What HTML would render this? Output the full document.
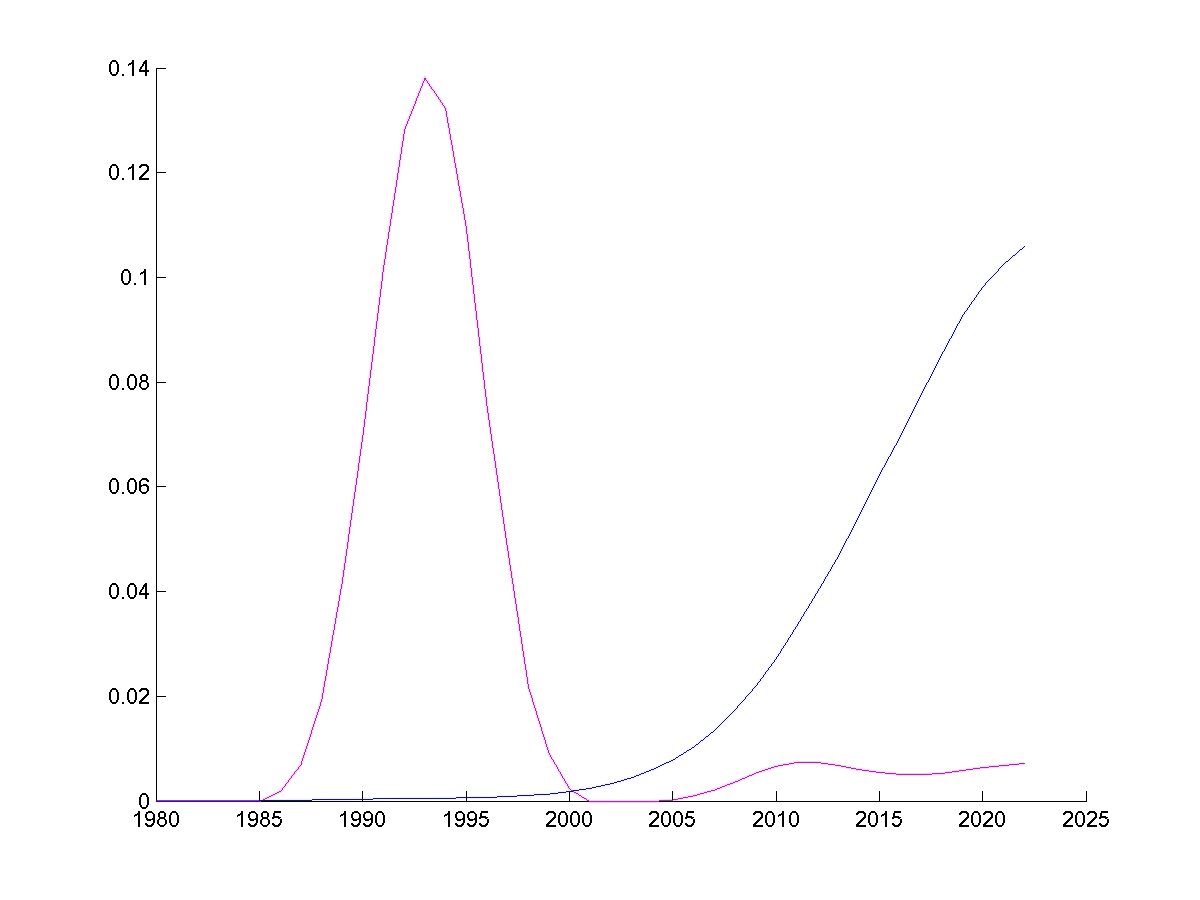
<!DOCTYPE html>
<html><head><meta charset="utf-8"><style>
html,body{margin:0;padding:0;background:#fff;}
body{width:1200px;height:900px;overflow:hidden;font-family:"Liberation Sans",sans-serif;}
svg{display:block;}
</style></head><body>
<svg width="1200" height="900" viewBox="0 0 1200 900">
<rect width="1200" height="900" fill="#fff"/>
<polyline fill="none" stroke="#f6cdf6" stroke-width="3" points="259.8,801.5 280.7,791.3 301.0,764.6 321.7,700.3 342.3,582.0 363.0,435.0 383.5,268.4 404.7,129.5 425.0,78.3 445.5,108.3 466.2,226.7 487.0,406.0 507.5,548.0 528.5,687.0 549.0,753.4 569.8,789.3 589.8,801.5 611.0,801.5 632.0,801.5 652.5,801.5 673.2,800.0 693.8,795.8 714.5,790.0 735.2,782.0 755.8,773.2 776.5,766.3 797.2,762.4 817.8,762.5 838.5,765.5 859.2,769.6 879.8,772.5 900.5,774.4 921.2,774.6 941.8,773.4 962.5,770.5 983.2,767.5 1003.8,765.5 1024.5,763.5"/>
<polyline fill="none" stroke="#ededf9" stroke-width="3" points="259.8,800.5 280.5,800.5 301.2,800.2 321.8,799.8 342.5,799.4 363.2,799.1 383.8,798.9 404.5,798.6 425.2,798.4 445.8,798.2 466.5,797.8 487.2,797.4 507.8,796.6 528.5,795.3 549.2,794.2 569.8,791.4 590.5,788.3 611.2,783.7 631.8,777.7 652.5,769.5 673.2,759.9 693.8,746.9 714.5,730.5 735.2,709.7 755.8,686.3 776.5,658.1 797.2,625.4 817.8,591.3 838.5,556.0 859.2,515.8 879.8,474.3 900.5,436.3 921.2,394.8 941.8,354.6 962.5,316.1 983.2,286.5 1003.8,264.2 1024.5,246.5"/>
<g stroke="#000" stroke-width="1" shape-rendering="crispEdges" fill="none">
<path d="M156.5 68 V802 M156 801.5 H1087"/>
<path d="M156 801.5 H166"/>
<path d="M156 696.5 H166"/>
<path d="M156 591.5 H166"/>
<path d="M156 486.5 H166"/>
<path d="M156 382.5 H166"/>
<path d="M156 277.5 H166"/>
<path d="M156 172.5 H166"/>
<path d="M156 68.5 H166"/>
<path d="M156.5 791 V801"/>
<path d="M259.5 791 V801"/>
<path d="M362.5 791 V801"/>
<path d="M466.5 791 V801"/>
<path d="M569.5 791 V801"/>
<path d="M672.5 791 V801"/>
<path d="M776.5 791 V801"/>
<path d="M879.5 791 V801"/>
<path d="M982.5 791 V801"/>
<path d="M1086.5 791 V801"/>
</g>
<path fill="#9e349f" shape-rendering="crispEdges" d="M424 78h2v1h-2zM424 79h2v1h-2zM424 80h1v1h-1zM426 80h1v1h-1zM423 81h1v1h-1zM427 81h1v1h-1zM423 82h1v1h-1zM427 82h1v1h-1zM422 83h1v1h-1zM428 83h1v1h-1zM422 84h1v1h-1zM429 84h1v1h-1zM422 85h1v1h-1zM429 85h1v1h-1zM421 86h1v1h-1zM430 86h1v1h-1zM421 87h1v1h-1zM431 87h1v1h-1zM420 88h1v1h-1zM431 88h1v1h-1zM420 89h1v1h-1zM432 89h1v1h-1zM420 90h1v1h-1zM433 90h1v1h-1zM419 91h1v1h-1zM434 91h1v1h-1zM419 92h1v1h-1zM434 92h1v1h-1zM418 93h1v1h-1zM435 93h1v1h-1zM418 94h1v1h-1zM436 94h1v1h-1zM418 95h1v1h-1zM436 95h1v1h-1zM417 96h1v1h-1zM437 96h1v1h-1zM417 97h1v1h-1zM438 97h1v1h-1zM416 98h1v1h-1zM438 98h1v1h-1zM416 99h1v1h-1zM439 99h1v1h-1zM416 100h1v1h-1zM440 100h1v1h-1zM415 101h1v1h-1zM440 101h1v1h-1zM415 102h1v1h-1zM441 102h1v1h-1zM415 103h1v1h-1zM442 103h1v1h-1zM414 104h1v1h-1zM442 104h1v1h-1zM414 105h1v1h-1zM443 105h1v1h-1zM413 106h1v1h-1zM444 106h1v1h-1zM413 107h1v1h-1zM444 107h1v1h-1zM413 108h1v1h-1zM445 108h1v1h-1zM412 109h1v1h-1zM445 109h1v1h-1zM412 110h1v1h-1zM445 110h1v1h-1zM411 111h1v1h-1zM446 111h1v1h-1zM411 112h1v1h-1zM446 112h1v1h-1zM411 113h1v1h-1zM446 113h1v1h-1zM410 114h1v1h-1zM446 114h1v1h-1zM410 115h1v1h-1zM446 115h1v1h-1zM409 116h1v1h-1zM446 116h1v1h-1zM409 117h1v1h-1zM447 117h1v1h-1zM409 118h1v1h-1zM447 118h1v1h-1zM408 119h1v1h-1zM447 119h1v1h-1zM408 120h1v1h-1zM447 120h1v1h-1zM407 121h1v1h-1zM447 121h1v1h-1zM407 122h1v1h-1zM447 122h1v1h-1zM407 123h1v1h-1zM448 123h1v1h-1zM406 124h1v1h-1zM448 124h1v1h-1zM406 125h1v1h-1zM448 125h1v1h-1zM405 126h1v1h-1zM448 126h1v1h-1zM405 127h1v1h-1zM448 127h1v1h-1zM405 128h1v1h-1zM449 128h1v1h-1zM404 129h1v1h-1zM449 129h1v1h-1zM404 130h1v1h-1zM449 130h1v1h-1zM404 131h1v1h-1zM449 131h1v1h-1zM404 132h1v1h-1zM449 132h1v1h-1zM404 133h1v1h-1zM449 133h1v1h-1zM403 134h1v1h-1zM450 134h1v1h-1zM403 135h1v1h-1zM450 135h1v1h-1zM403 136h1v1h-1zM450 136h1v1h-1zM403 137h1v1h-1zM450 137h1v1h-1zM403 138h1v1h-1zM450 138h1v1h-1zM403 139h1v1h-1zM450 139h1v1h-1zM403 140h1v1h-1zM451 140h1v1h-1zM402 141h1v1h-1zM451 141h1v1h-1zM402 142h1v1h-1zM451 142h1v1h-1zM402 143h1v1h-1zM451 143h1v1h-1zM402 144h1v1h-1zM451 144h1v1h-1zM402 145h1v1h-1zM452 145h1v1h-1zM402 146h1v1h-1zM452 146h1v1h-1zM401 147h1v1h-1zM452 147h1v1h-1zM401 148h1v1h-1zM452 148h1v1h-1zM401 149h1v1h-1zM452 149h1v1h-1zM401 150h1v1h-1zM452 150h1v1h-1zM401 151h1v1h-1zM453 151h1v1h-1zM401 152h1v1h-1zM453 152h1v1h-1zM401 153h1v1h-1zM453 153h1v1h-1zM400 154h1v1h-1zM453 154h1v1h-1zM400 155h1v1h-1zM453 155h1v1h-1zM400 156h1v1h-1zM453 156h1v1h-1zM400 157h1v1h-1zM454 157h1v1h-1zM400 158h1v1h-1zM454 158h1v1h-1zM400 159h1v1h-1zM454 159h1v1h-1zM399 160h1v1h-1zM454 160h1v1h-1zM399 161h1v1h-1zM454 161h1v1h-1zM399 162h1v1h-1zM454 162h1v1h-1zM399 163h1v1h-1zM455 163h1v1h-1zM399 164h1v1h-1zM455 164h1v1h-1zM399 165h1v1h-1zM455 165h1v1h-1zM399 166h1v1h-1zM455 166h1v1h-1zM398 167h1v1h-1zM455 167h1v1h-1zM398 168h1v1h-1zM456 168h1v1h-1zM398 169h1v1h-1zM456 169h1v1h-1zM398 170h1v1h-1zM456 170h1v1h-1zM398 171h1v1h-1zM456 171h1v1h-1zM398 172h1v1h-1zM456 172h1v1h-1zM397 173h1v1h-1zM456 173h1v1h-1zM397 174h1v1h-1zM457 174h1v1h-1zM397 175h1v1h-1zM457 175h1v1h-1zM397 176h1v1h-1zM457 176h1v1h-1zM397 177h1v1h-1zM457 177h1v1h-1zM397 178h1v1h-1zM457 178h1v1h-1zM397 179h1v1h-1zM457 179h1v1h-1zM396 180h1v1h-1zM458 180h1v1h-1zM396 181h1v1h-1zM458 181h1v1h-1zM396 182h1v1h-1zM458 182h1v1h-1zM396 183h1v1h-1zM458 183h1v1h-1zM396 184h1v1h-1zM458 184h1v1h-1zM396 185h1v1h-1zM458 185h1v1h-1zM396 186h1v1h-1zM459 186h1v1h-1zM395 187h1v1h-1zM459 187h1v1h-1zM395 188h1v1h-1zM459 188h1v1h-1zM395 189h1v1h-1zM459 189h1v1h-1zM395 190h1v1h-1zM459 190h1v1h-1zM395 191h1v1h-1zM460 191h1v1h-1zM395 192h1v1h-1zM460 192h1v1h-1zM394 193h1v1h-1zM460 193h1v1h-1zM394 194h1v1h-1zM460 194h1v1h-1zM394 195h1v1h-1zM460 195h1v1h-1zM394 196h1v1h-1zM460 196h1v1h-1zM394 197h1v1h-1zM461 197h1v1h-1zM394 198h1v1h-1zM461 198h1v1h-1zM394 199h1v1h-1zM461 199h1v1h-1zM393 200h1v1h-1zM461 200h1v1h-1zM393 201h1v1h-1zM461 201h1v1h-1zM393 202h1v1h-1zM461 202h1v1h-1zM393 203h1v1h-1zM462 203h1v1h-1zM393 204h1v1h-1zM462 204h1v1h-1zM393 205h1v1h-1zM462 205h1v1h-1zM392 206h1v1h-1zM462 206h1v1h-1zM392 207h1v1h-1zM462 207h1v1h-1zM392 208h1v1h-1zM463 208h1v1h-1zM392 209h1v1h-1zM463 209h1v1h-1zM392 210h1v1h-1zM463 210h1v1h-1zM392 211h1v1h-1zM463 211h1v1h-1zM392 212h1v1h-1zM463 212h1v1h-1zM391 213h1v1h-1zM463 213h1v1h-1zM391 214h1v1h-1zM464 214h1v1h-1zM391 215h1v1h-1zM464 215h1v1h-1zM391 216h1v1h-1zM464 216h1v1h-1zM391 217h1v1h-1zM464 217h1v1h-1zM391 218h1v1h-1zM464 218h1v1h-1zM390 219h1v1h-1zM464 219h1v1h-1zM390 220h1v1h-1zM465 220h1v1h-1zM390 221h1v1h-1zM465 221h1v1h-1zM390 222h1v1h-1zM465 222h1v1h-1zM390 223h1v1h-1zM465 223h1v1h-1zM390 224h1v1h-1zM465 224h1v1h-1zM390 225h1v1h-1zM465 225h1v1h-1zM389 226h1v1h-1zM466 226h1v1h-1zM389 227h1v1h-1zM466 227h1v1h-1zM389 228h1v1h-1zM466 228h1v1h-1zM389 229h1v1h-1zM466 229h1v1h-1zM389 230h1v1h-1zM466 230h1v1h-1zM389 231h1v1h-1zM466 231h1v1h-1zM388 232h1v1h-1zM466 232h1v1h-1zM388 233h1v1h-1zM466 233h1v1h-1zM388 234h1v1h-1zM467 234h1v1h-1zM388 235h1v1h-1zM467 235h1v1h-1zM388 236h1v1h-1zM467 236h1v1h-1zM388 237h1v1h-1zM467 237h1v1h-1zM388 238h1v1h-1zM467 238h1v1h-1zM387 239h1v1h-1zM467 239h1v1h-1zM387 240h1v1h-1zM467 240h1v1h-1zM387 241h1v1h-1zM467 241h1v1h-1zM387 242h1v1h-1zM468 242h1v1h-1zM387 243h1v1h-1zM468 243h1v1h-1zM387 244h1v1h-1zM468 244h1v1h-1zM386 245h1v1h-1zM468 245h1v1h-1zM386 246h1v1h-1zM468 246h1v1h-1zM386 247h1v1h-1zM468 247h1v1h-1zM386 248h1v1h-1zM468 248h1v1h-1zM386 249h1v1h-1zM468 249h1v1h-1zM386 250h1v1h-1zM468 250h1v1h-1zM386 251h1v1h-1zM469 251h1v1h-1zM385 252h1v1h-1zM469 252h1v1h-1zM385 253h1v1h-1zM469 253h1v1h-1zM385 254h1v1h-1zM469 254h1v1h-1zM385 255h1v1h-1zM469 255h1v1h-1zM385 256h1v1h-1zM469 256h1v1h-1zM385 257h1v1h-1zM469 257h1v1h-1zM385 258h1v1h-1zM469 258h1v1h-1zM384 259h1v1h-1zM470 259h1v1h-1zM384 260h1v1h-1zM470 260h1v1h-1zM384 261h1v1h-1zM470 261h1v1h-1zM384 262h1v1h-1zM470 262h1v1h-1zM384 263h1v1h-1zM470 263h1v1h-1zM384 264h1v1h-1zM470 264h1v1h-1zM383 265h1v1h-1zM470 265h1v1h-1zM383 266h1v1h-1zM470 266h1v1h-1zM383 267h1v1h-1zM470 267h1v1h-1zM383 268h1v1h-1zM471 268h1v1h-1zM383 269h1v1h-1zM471 269h1v1h-1zM383 270h1v1h-1zM471 270h1v1h-1zM383 271h1v1h-1zM471 271h1v1h-1zM382 272h1v1h-1zM471 272h1v1h-1zM382 273h1v1h-1zM471 273h1v1h-1zM382 274h1v1h-1zM471 274h1v1h-1zM382 275h1v1h-1zM471 275h1v1h-1zM382 276h1v1h-1zM471 276h1v1h-1zM382 277h1v1h-1zM472 277h1v1h-1zM382 278h1v1h-1zM472 278h1v1h-1zM382 279h1v1h-1zM472 279h1v1h-1zM382 280h1v1h-1zM472 280h1v1h-1zM381 281h1v1h-1zM472 281h1v1h-1zM381 282h1v1h-1zM472 282h1v1h-1zM381 283h1v1h-1zM472 283h1v1h-1zM381 284h1v1h-1zM472 284h1v1h-1zM381 285h1v1h-1zM473 285h1v1h-1zM381 286h1v1h-1zM473 286h1v1h-1zM381 287h1v1h-1zM473 287h1v1h-1zM381 288h1v1h-1zM473 288h1v1h-1zM380 289h1v1h-1zM473 289h1v1h-1zM380 290h1v1h-1zM473 290h1v1h-1zM380 291h1v1h-1zM473 291h1v1h-1zM380 292h1v1h-1zM473 292h1v1h-1zM380 293h1v1h-1zM473 293h1v1h-1zM380 294h1v1h-1zM474 294h1v1h-1zM380 295h1v1h-1zM474 295h1v1h-1zM380 296h1v1h-1zM474 296h1v1h-1zM379 297h1v1h-1zM474 297h1v1h-1zM379 298h1v1h-1zM474 298h1v1h-1zM379 299h1v1h-1zM474 299h1v1h-1zM379 300h1v1h-1zM474 300h1v1h-1zM379 301h1v1h-1zM474 301h1v1h-1zM379 302h1v1h-1zM474 302h1v1h-1zM379 303h1v1h-1zM475 303h1v1h-1zM379 304h1v1h-1zM475 304h1v1h-1zM378 305h1v1h-1zM475 305h1v1h-1zM378 306h1v1h-1zM475 306h1v1h-1zM378 307h1v1h-1zM475 307h1v1h-1zM378 308h1v1h-1zM475 308h1v1h-1zM378 309h1v1h-1zM475 309h1v1h-1zM378 310h1v1h-1zM475 310h1v1h-1zM378 311h1v1h-1zM476 311h1v1h-1zM378 312h1v1h-1zM476 312h1v1h-1zM377 313h1v1h-1zM476 313h1v1h-1zM377 314h1v1h-1zM476 314h1v1h-1zM377 315h1v1h-1zM476 315h1v1h-1zM377 316h1v1h-1zM476 316h1v1h-1zM377 317h1v1h-1zM476 317h1v1h-1zM377 318h1v1h-1zM476 318h1v1h-1zM377 319h1v1h-1zM476 319h1v1h-1zM377 320h1v1h-1zM477 320h1v1h-1zM376 321h1v1h-1zM477 321h1v1h-1zM376 322h1v1h-1zM477 322h1v1h-1zM376 323h1v1h-1zM477 323h1v1h-1zM376 324h1v1h-1zM477 324h1v1h-1zM376 325h1v1h-1zM477 325h1v1h-1zM376 326h1v1h-1zM477 326h1v1h-1zM376 327h1v1h-1zM477 327h1v1h-1zM376 328h1v1h-1zM478 328h1v1h-1zM375 329h1v1h-1zM478 329h1v1h-1zM375 330h1v1h-1zM478 330h1v1h-1zM375 331h1v1h-1zM478 331h1v1h-1zM375 332h1v1h-1zM478 332h1v1h-1zM375 333h1v1h-1zM478 333h1v1h-1zM375 334h1v1h-1zM478 334h1v1h-1zM375 335h1v1h-1zM478 335h1v1h-1zM375 336h1v1h-1zM478 336h1v1h-1zM374 337h1v1h-1zM479 337h1v1h-1zM374 338h1v1h-1zM479 338h1v1h-1zM374 339h1v1h-1zM479 339h1v1h-1zM374 340h1v1h-1zM479 340h1v1h-1zM374 341h1v1h-1zM479 341h1v1h-1zM374 342h1v1h-1zM479 342h1v1h-1zM374 343h1v1h-1zM479 343h1v1h-1zM374 344h1v1h-1zM479 344h1v1h-1zM374 345h1v1h-1zM479 345h1v1h-1zM373 346h1v1h-1zM480 346h1v1h-1zM373 347h1v1h-1zM480 347h1v1h-1zM373 348h1v1h-1zM480 348h1v1h-1zM373 349h1v1h-1zM480 349h1v1h-1zM373 350h1v1h-1zM480 350h1v1h-1zM373 351h1v1h-1zM480 351h1v1h-1zM373 352h1v1h-1zM480 352h1v1h-1zM373 353h1v1h-1zM480 353h1v1h-1zM372 354h1v1h-1zM481 354h1v1h-1zM372 355h1v1h-1zM481 355h1v1h-1zM372 356h1v1h-1zM481 356h1v1h-1zM372 357h1v1h-1zM481 357h1v1h-1zM372 358h1v1h-1zM481 358h1v1h-1zM372 359h1v1h-1zM481 359h1v1h-1zM372 360h1v1h-1zM481 360h1v1h-1zM372 361h1v1h-1zM481 361h1v1h-1zM371 362h1v1h-1zM481 362h1v1h-1zM371 363h1v1h-1zM482 363h1v1h-1zM371 364h1v1h-1zM482 364h1v1h-1zM371 365h1v1h-1zM482 365h1v1h-1zM371 366h1v1h-1zM482 366h1v1h-1zM371 367h1v1h-1zM482 367h1v1h-1zM371 368h1v1h-1zM482 368h1v1h-1zM371 369h1v1h-1zM482 369h1v1h-1zM370 370h1v1h-1zM482 370h1v1h-1zM370 371h1v1h-1zM482 371h1v1h-1zM370 372h1v1h-1zM483 372h1v1h-1zM370 373h1v1h-1zM483 373h1v1h-1zM370 374h1v1h-1zM483 374h1v1h-1zM370 375h1v1h-1zM483 375h1v1h-1zM370 376h1v1h-1zM483 376h1v1h-1zM370 377h1v1h-1zM483 377h1v1h-1zM369 378h1v1h-1zM483 378h1v1h-1zM369 379h1v1h-1zM483 379h1v1h-1zM369 380h1v1h-1zM484 380h1v1h-1zM369 381h1v1h-1zM484 381h1v1h-1zM369 382h1v1h-1zM484 382h1v1h-1zM369 383h1v1h-1zM484 383h1v1h-1zM369 384h1v1h-1zM484 384h1v1h-1zM369 385h1v1h-1zM484 385h1v1h-1zM368 386h1v1h-1zM484 386h1v1h-1zM368 387h1v1h-1zM484 387h1v1h-1zM368 388h1v1h-1zM484 388h1v1h-1zM368 389h1v1h-1zM485 389h1v1h-1zM368 390h1v1h-1zM485 390h1v1h-1zM368 391h1v1h-1zM485 391h1v1h-1zM368 392h1v1h-1zM485 392h1v1h-1zM368 393h1v1h-1zM485 393h1v1h-1zM367 394h1v1h-1zM485 394h1v1h-1zM367 395h1v1h-1zM485 395h1v1h-1zM367 396h1v1h-1zM485 396h1v1h-1zM367 397h1v1h-1zM486 397h1v1h-1zM367 398h1v1h-1zM486 398h1v1h-1zM367 399h1v1h-1zM486 399h1v1h-1zM367 400h1v1h-1zM486 400h1v1h-1zM367 401h1v1h-1zM486 401h1v1h-1zM366 402h1v1h-1zM486 402h1v1h-1zM366 403h1v1h-1zM486 403h1v1h-1zM366 404h1v1h-1zM486 404h1v1h-1zM366 405h1v1h-1zM486 405h1v1h-1zM366 406h1v1h-1zM487 406h1v1h-1zM366 407h1v1h-1zM487 407h1v1h-1zM366 408h1v1h-1zM487 408h1v1h-1zM366 409h1v1h-1zM487 409h1v1h-1zM366 410h1v1h-1zM487 410h1v1h-1zM365 411h1v1h-1zM487 411h1v1h-1zM365 412h1v1h-1zM487 412h1v1h-1zM365 413h1v1h-1zM488 413h1v1h-1zM365 414h1v1h-1zM488 414h1v1h-1zM365 415h1v1h-1zM488 415h1v1h-1zM365 416h1v1h-1zM488 416h1v1h-1zM365 417h1v1h-1zM488 417h1v1h-1zM365 418h1v1h-1zM488 418h1v1h-1zM364 419h1v1h-1zM488 419h1v1h-1zM364 420h1v1h-1zM489 420h1v1h-1zM364 421h1v1h-1zM489 421h1v1h-1zM364 422h1v1h-1zM489 422h1v1h-1zM364 423h1v1h-1zM489 423h1v1h-1zM364 424h1v1h-1zM489 424h1v1h-1zM364 425h1v1h-1zM489 425h1v1h-1zM364 426h1v1h-1zM489 426h1v1h-1zM363 427h1v1h-1zM490 427h1v1h-1zM363 428h1v1h-1zM490 428h1v1h-1zM363 429h1v1h-1zM490 429h1v1h-1zM363 430h1v1h-1zM490 430h1v1h-1zM363 431h1v1h-1zM490 431h1v1h-1zM363 432h1v1h-1zM490 432h1v1h-1zM363 433h1v1h-1zM490 433h1v1h-1zM363 434h1v1h-1zM491 434h1v1h-1zM362 435h1v1h-1zM491 435h1v1h-1zM362 436h1v1h-1zM491 436h1v1h-1zM362 437h1v1h-1zM491 437h1v1h-1zM362 438h1v1h-1zM491 438h1v1h-1zM362 439h1v1h-1zM491 439h1v1h-1zM362 440h1v1h-1zM491 440h1v1h-1zM362 441h1v1h-1zM492 441h1v1h-1zM361 442h1v1h-1zM492 442h1v1h-1zM361 443h1v1h-1zM492 443h1v1h-1zM361 444h1v1h-1zM492 444h1v1h-1zM361 445h1v1h-1zM492 445h1v1h-1zM361 446h1v1h-1zM492 446h1v1h-1zM361 447h1v1h-1zM492 447h1v1h-1zM361 448h1v1h-1zM493 448h1v1h-1zM360 449h1v1h-1zM493 449h1v1h-1zM360 450h1v1h-1zM493 450h1v1h-1zM360 451h1v1h-1zM493 451h1v1h-1zM360 452h1v1h-1zM493 452h1v1h-1zM360 453h1v1h-1zM493 453h1v1h-1zM360 454h1v1h-1zM494 454h1v1h-1zM360 455h1v1h-1zM494 455h1v1h-1zM359 456h1v1h-1zM494 456h1v1h-1zM359 457h1v1h-1zM494 457h1v1h-1zM359 458h1v1h-1zM494 458h1v1h-1zM359 459h1v1h-1zM494 459h1v1h-1zM359 460h1v1h-1zM494 460h1v1h-1zM359 461h1v1h-1zM495 461h1v1h-1zM359 462h1v1h-1zM495 462h1v1h-1zM358 463h1v1h-1zM495 463h1v1h-1zM358 464h1v1h-1zM495 464h1v1h-1zM358 465h1v1h-1zM495 465h1v1h-1zM358 466h1v1h-1zM495 466h1v1h-1zM358 467h1v1h-1zM495 467h1v1h-1zM358 468h1v1h-1zM496 468h1v1h-1zM358 469h1v1h-1zM496 469h1v1h-1zM358 470h1v1h-1zM496 470h1v1h-1zM357 471h1v1h-1zM496 471h1v1h-1zM357 472h1v1h-1zM496 472h1v1h-1zM357 473h1v1h-1zM496 473h1v1h-1zM357 474h1v1h-1zM496 474h1v1h-1zM357 475h1v1h-1zM497 475h1v1h-1zM357 476h1v1h-1zM497 476h1v1h-1zM357 477h1v1h-1zM497 477h1v1h-1zM356 478h1v1h-1zM497 478h1v1h-1zM356 479h1v1h-1zM497 479h1v1h-1zM356 480h1v1h-1zM497 480h1v1h-1zM356 481h1v1h-1zM497 481h1v1h-1zM356 482h1v1h-1zM498 482h1v1h-1zM356 483h1v1h-1zM498 483h1v1h-1zM356 484h1v1h-1zM498 484h1v1h-1zM355 485h1v1h-1zM498 485h1v1h-1zM355 486h1v1h-1zM498 486h1v1h-1zM355 487h1v1h-1zM498 487h1v1h-1zM355 488h1v1h-1zM498 488h1v1h-1zM355 489h1v1h-1zM499 489h1v1h-1zM355 490h1v1h-1zM499 490h1v1h-1zM355 491h1v1h-1zM499 491h1v1h-1zM354 492h1v1h-1zM499 492h1v1h-1zM354 493h1v1h-1zM499 493h1v1h-1zM354 494h1v1h-1zM499 494h1v1h-1zM354 495h1v1h-1zM499 495h1v1h-1zM354 496h1v1h-1zM500 496h1v1h-1zM354 497h1v1h-1zM500 497h1v1h-1zM354 498h1v1h-1zM500 498h1v1h-1zM353 499h1v1h-1zM500 499h1v1h-1zM353 500h1v1h-1zM500 500h1v1h-1zM353 501h1v1h-1zM500 501h1v1h-1zM353 502h1v1h-1zM500 502h1v1h-1zM353 503h1v1h-1zM501 503h1v1h-1zM353 504h1v1h-1zM501 504h1v1h-1zM353 505h1v1h-1zM501 505h1v1h-1zM352 506h1v1h-1zM501 506h1v1h-1zM352 507h1v1h-1zM501 507h1v1h-1zM352 508h1v1h-1zM501 508h1v1h-1zM352 509h1v1h-1zM501 509h1v1h-1zM352 510h1v1h-1zM502 510h1v1h-1zM352 511h1v1h-1zM502 511h1v1h-1zM352 512h1v1h-1zM502 512h1v1h-1zM351 513h1v1h-1zM502 513h1v1h-1zM351 514h1v1h-1zM502 514h1v1h-1zM351 515h1v1h-1zM502 515h1v1h-1zM351 516h1v1h-1zM502 516h1v1h-1zM351 517h1v1h-1zM503 517h1v1h-1zM351 518h1v1h-1zM503 518h1v1h-1zM351 519h1v1h-1zM503 519h1v1h-1zM350 520h1v1h-1zM503 520h1v1h-1zM350 521h1v1h-1zM503 521h1v1h-1zM350 522h1v1h-1zM503 522h1v1h-1zM350 523h1v1h-1zM503 523h1v1h-1zM350 524h1v1h-1zM504 524h1v1h-1zM350 525h1v1h-1zM504 525h1v1h-1zM350 526h1v1h-1zM504 526h1v1h-1zM349 527h1v1h-1zM504 527h1v1h-1zM349 528h1v1h-1zM504 528h1v1h-1zM349 529h1v1h-1zM504 529h1v1h-1zM349 530h1v1h-1zM504 530h1v1h-1zM349 531h1v1h-1zM505 531h1v1h-1zM349 532h1v1h-1zM505 532h1v1h-1zM349 533h1v1h-1zM505 533h1v1h-1zM348 534h1v1h-1zM505 534h1v1h-1zM348 535h1v1h-1zM505 535h1v1h-1zM348 536h1v1h-1zM505 536h1v1h-1zM348 537h1v1h-1zM505 537h1v1h-1zM348 538h1v1h-1zM506 538h1v1h-1zM348 539h1v1h-1zM506 539h1v1h-1zM348 540h1v1h-1zM506 540h1v1h-1zM348 541h1v1h-1zM506 541h1v1h-1zM347 542h1v1h-1zM506 542h1v1h-1zM347 543h1v1h-1zM506 543h1v1h-1zM347 544h1v1h-1zM506 544h1v1h-1zM347 545h1v1h-1zM507 545h1v1h-1zM347 546h1v1h-1zM507 546h1v1h-1zM347 547h1v1h-1zM507 547h1v1h-1zM347 548h1v1h-1zM507 548h1v1h-1zM346 549h1v1h-1zM507 549h1v1h-1zM346 550h1v1h-1zM507 550h1v1h-1zM346 551h1v1h-1zM508 551h1v1h-1zM346 552h1v1h-1zM508 552h1v1h-1zM346 553h1v1h-1zM508 553h1v1h-1zM346 554h1v1h-1zM508 554h1v1h-1zM346 555h1v1h-1zM508 555h1v1h-1zM345 556h1v1h-1zM508 556h1v1h-1zM345 557h1v1h-1zM508 557h1v1h-1zM345 558h1v1h-1zM509 558h1v1h-1zM345 559h1v1h-1zM509 559h1v1h-1zM345 560h1v1h-1zM509 560h1v1h-1zM345 561h1v1h-1zM509 561h1v1h-1zM345 562h1v1h-1zM509 562h1v1h-1zM344 563h1v1h-1zM509 563h1v1h-1zM344 564h1v1h-1zM509 564h1v1h-1zM344 565h1v1h-1zM510 565h1v1h-1zM344 566h1v1h-1zM510 566h1v1h-1zM344 567h1v1h-1zM510 567h1v1h-1zM344 568h1v1h-1zM510 568h1v1h-1zM344 569h1v1h-1zM510 569h1v1h-1zM343 570h1v1h-1zM510 570h1v1h-1zM343 571h1v1h-1zM511 571h1v1h-1zM343 572h1v1h-1zM511 572h1v1h-1zM343 573h1v1h-1zM511 573h1v1h-1zM343 574h1v1h-1zM511 574h1v1h-1zM343 575h1v1h-1zM511 575h1v1h-1zM343 576h1v1h-1zM511 576h1v1h-1zM342 577h1v1h-1zM511 577h1v1h-1zM342 578h1v1h-1zM512 578h1v1h-1zM342 579h1v1h-1zM512 579h1v1h-1zM342 580h1v1h-1zM512 580h1v1h-1zM342 581h1v1h-1zM512 581h1v1h-1zM342 582h1v1h-1zM512 582h1v1h-1zM342 583h1v1h-1zM512 583h1v1h-1zM341 584h1v1h-1zM513 584h1v1h-1zM341 585h1v1h-1zM513 585h1v1h-1zM341 586h1v1h-1zM513 586h1v1h-1zM341 587h1v1h-1zM513 587h1v1h-1zM341 588h1v1h-1zM513 588h1v1h-1zM340 589h1v1h-1zM513 589h1v1h-1zM340 590h1v1h-1zM513 590h1v1h-1zM340 591h1v1h-1zM514 591h1v1h-1zM340 592h1v1h-1zM514 592h1v1h-1zM340 593h1v1h-1zM514 593h1v1h-1zM340 594h1v1h-1zM514 594h1v1h-1zM339 595h1v1h-1zM514 595h1v1h-1zM339 596h1v1h-1zM514 596h1v1h-1zM339 597h1v1h-1zM514 597h1v1h-1zM339 598h1v1h-1zM515 598h1v1h-1zM339 599h1v1h-1zM515 599h1v1h-1zM339 600h1v1h-1zM515 600h1v1h-1zM338 601h1v1h-1zM515 601h1v1h-1zM338 602h1v1h-1zM515 602h1v1h-1zM338 603h1v1h-1zM515 603h1v1h-1zM338 604h1v1h-1zM516 604h1v1h-1zM338 605h1v1h-1zM516 605h1v1h-1zM338 606h1v1h-1zM516 606h1v1h-1zM337 607h1v1h-1zM516 607h1v1h-1zM337 608h1v1h-1zM516 608h1v1h-1zM337 609h1v1h-1zM516 609h1v1h-1zM337 610h1v1h-1zM516 610h1v1h-1zM337 611h1v1h-1zM517 611h1v1h-1zM336 612h1v1h-1zM517 612h1v1h-1zM336 613h1v1h-1zM517 613h1v1h-1zM336 614h1v1h-1zM517 614h1v1h-1zM336 615h1v1h-1zM517 615h1v1h-1zM336 616h1v1h-1zM517 616h1v1h-1zM336 617h1v1h-1zM518 617h1v1h-1zM335 618h1v1h-1zM518 618h1v1h-1zM335 619h1v1h-1zM518 619h1v1h-1zM335 620h1v1h-1zM518 620h1v1h-1zM335 621h1v1h-1zM518 621h1v1h-1zM335 622h1v1h-1zM518 622h1v1h-1zM335 623h1v1h-1zM518 623h1v1h-1zM334 624h1v1h-1zM519 624h1v1h-1zM334 625h1v1h-1zM519 625h1v1h-1zM334 626h1v1h-1zM519 626h1v1h-1zM334 627h1v1h-1zM519 627h1v1h-1zM334 628h1v1h-1zM519 628h1v1h-1zM334 629h1v1h-1zM519 629h1v1h-1zM333 630h1v1h-1zM519 630h1v1h-1zM333 631h1v1h-1zM520 631h1v1h-1zM333 632h1v1h-1zM520 632h1v1h-1zM333 633h1v1h-1zM520 633h1v1h-1zM333 634h1v1h-1zM520 634h1v1h-1zM332 635h1v1h-1zM520 635h1v1h-1zM332 636h1v1h-1zM520 636h1v1h-1zM332 637h1v1h-1zM521 637h1v1h-1zM332 638h1v1h-1zM521 638h1v1h-1zM332 639h1v1h-1zM521 639h1v1h-1zM332 640h1v1h-1zM521 640h1v1h-1zM331 641h1v1h-1zM521 641h1v1h-1zM331 642h1v1h-1zM521 642h1v1h-1zM331 643h1v1h-1zM521 643h1v1h-1zM331 644h1v1h-1zM522 644h1v1h-1zM331 645h1v1h-1zM522 645h1v1h-1zM331 646h1v1h-1zM522 646h1v1h-1zM330 647h1v1h-1zM522 647h1v1h-1zM330 648h1v1h-1zM522 648h1v1h-1zM330 649h1v1h-1zM522 649h1v1h-1zM330 650h1v1h-1zM522 650h1v1h-1zM330 651h1v1h-1zM523 651h1v1h-1zM330 652h1v1h-1zM523 652h1v1h-1zM329 653h1v1h-1zM523 653h1v1h-1zM329 654h1v1h-1zM523 654h1v1h-1zM329 655h1v1h-1zM523 655h1v1h-1zM329 656h1v1h-1zM523 656h1v1h-1zM329 657h1v1h-1zM524 657h1v1h-1zM328 658h1v1h-1zM524 658h1v1h-1zM328 659h1v1h-1zM524 659h1v1h-1zM328 660h1v1h-1zM524 660h1v1h-1zM328 661h1v1h-1zM524 661h1v1h-1zM328 662h1v1h-1zM524 662h1v1h-1zM328 663h1v1h-1zM524 663h1v1h-1zM327 664h1v1h-1zM525 664h1v1h-1zM327 665h1v1h-1zM525 665h1v1h-1zM327 666h1v1h-1zM525 666h1v1h-1zM327 667h1v1h-1zM525 667h1v1h-1zM327 668h1v1h-1zM525 668h1v1h-1zM327 669h1v1h-1zM525 669h1v1h-1zM326 670h1v1h-1zM526 670h1v1h-1zM326 671h1v1h-1zM526 671h1v1h-1zM326 672h1v1h-1zM526 672h1v1h-1zM326 673h1v1h-1zM526 673h1v1h-1zM326 674h1v1h-1zM526 674h1v1h-1zM326 675h1v1h-1zM526 675h1v1h-1zM325 676h1v1h-1zM526 676h1v1h-1zM325 677h1v1h-1zM527 677h1v1h-1zM325 678h1v1h-1zM527 678h1v1h-1zM325 679h1v1h-1zM527 679h1v1h-1zM325 680h1v1h-1zM527 680h1v1h-1zM324 681h1v1h-1zM527 681h1v1h-1zM324 682h1v1h-1zM527 682h1v1h-1zM324 683h1v1h-1zM527 683h1v1h-1zM324 684h1v1h-1zM528 684h1v1h-1zM324 685h1v1h-1zM528 685h1v1h-1zM324 686h1v1h-1zM528 686h1v1h-1zM323 687h1v1h-1zM528 687h1v1h-1zM323 688h1v1h-1zM528 688h1v1h-1zM323 689h1v1h-1zM529 689h1v1h-1zM323 690h1v1h-1zM529 690h1v1h-1zM323 691h1v1h-1zM529 691h1v1h-1zM323 692h1v1h-1zM530 692h1v1h-1zM322 693h1v1h-1zM530 693h1v1h-1zM322 694h1v1h-1zM530 694h1v1h-1zM322 695h1v1h-1zM531 695h1v1h-1zM322 696h1v1h-1zM531 696h1v1h-1zM322 697h1v1h-1zM531 697h1v1h-1zM322 698h1v1h-1zM532 698h1v1h-1zM321 699h1v1h-1zM532 699h1v1h-1zM321 700h1v1h-1zM532 700h1v1h-1zM321 701h1v1h-1zM532 701h1v1h-1zM320 702h1v1h-1zM533 702h1v1h-1zM320 703h1v1h-1zM533 703h1v1h-1zM320 704h1v1h-1zM533 704h1v1h-1zM320 705h1v1h-1zM534 705h1v1h-1zM319 706h1v1h-1zM534 706h1v1h-1zM319 707h1v1h-1zM534 707h1v1h-1zM319 708h1v1h-1zM535 708h1v1h-1zM318 709h1v1h-1zM535 709h1v1h-1zM318 710h1v1h-1zM535 710h1v1h-1zM318 711h1v1h-1zM536 711h1v1h-1zM317 712h1v1h-1zM536 712h1v1h-1zM317 713h1v1h-1zM536 713h1v1h-1zM317 714h1v1h-1zM536 714h1v1h-1zM316 715h1v1h-1zM537 715h1v1h-1zM316 716h1v1h-1zM537 716h1v1h-1zM316 717h1v1h-1zM537 717h1v1h-1zM315 718h1v1h-1zM538 718h1v1h-1zM315 719h1v1h-1zM538 719h1v1h-1zM315 720h1v1h-1zM538 720h1v1h-1zM314 721h1v1h-1zM539 721h1v1h-1zM314 722h1v1h-1zM539 722h1v1h-1zM314 723h1v1h-1zM539 723h1v1h-1zM313 724h1v1h-1zM540 724h1v1h-1zM313 725h1v1h-1zM540 725h1v1h-1zM313 726h1v1h-1zM540 726h1v1h-1zM312 727h1v1h-1zM541 727h1v1h-1zM312 728h1v1h-1zM541 728h1v1h-1zM312 729h1v1h-1zM541 729h1v1h-1zM311 730h1v1h-1zM541 730h1v1h-1zM311 731h1v1h-1zM542 731h1v1h-1zM311 732h1v1h-1zM542 732h1v1h-1zM311 733h1v1h-1zM542 733h1v1h-1zM310 734h1v1h-1zM543 734h1v1h-1zM310 735h1v1h-1zM543 735h1v1h-1zM310 736h1v1h-1zM543 736h1v1h-1zM309 737h1v1h-1zM544 737h1v1h-1zM309 738h1v1h-1zM544 738h1v1h-1zM309 739h1v1h-1zM544 739h1v1h-1zM308 740h1v1h-1zM545 740h1v1h-1zM308 741h1v1h-1zM545 741h1v1h-1zM308 742h1v1h-1zM545 742h1v1h-1zM307 743h1v1h-1zM545 743h1v1h-1zM307 744h1v1h-1zM546 744h1v1h-1zM307 745h1v1h-1zM546 745h1v1h-1zM306 746h1v1h-1zM546 746h1v1h-1zM306 747h1v1h-1zM547 747h1v1h-1zM306 748h1v1h-1zM547 748h1v1h-1zM305 749h1v1h-1zM547 749h1v1h-1zM305 750h1v1h-1zM548 750h1v1h-1zM305 751h1v1h-1zM548 751h1v1h-1zM304 752h1v1h-1zM548 752h1v1h-1zM304 753h1v1h-1zM549 753h1v1h-1zM304 754h1v1h-1zM549 754h1v1h-1zM303 755h1v1h-1zM550 755h1v1h-1zM303 756h1v1h-1zM550 756h1v1h-1zM303 757h1v1h-1zM551 757h1v1h-1zM302 758h1v1h-1zM551 758h1v1h-1zM302 759h1v1h-1zM552 759h1v1h-1zM302 760h1v1h-1zM553 760h1v1h-1zM301 761h1v1h-1zM553 761h1v1h-1zM301 762h1v1h-1zM554 762h1v1h-1zM794 762h27v1h-27zM301 763h1v1h-1zM554 763h1v1h-1zM789 763h5v1h-5zM821 763h7v1h-7zM1019 763h6v1h-6zM301 764h1v1h-1zM555 764h1v1h-1zM783 764h6v1h-6zM828 764h7v1h-7zM1009 764h10v1h-10zM300 765h1v1h-1zM556 765h1v1h-1zM778 765h5v1h-5zM835 765h6v1h-6zM999 765h10v1h-10zM299 766h1v1h-1zM556 766h1v1h-1zM774 766h4v1h-4zM841 766h5v1h-5zM989 766h10v1h-10zM298 767h1v1h-1zM557 767h1v1h-1zM771 767h3v1h-3zM846 767h5v1h-5zM980 767h9v1h-9zM298 768h1v1h-1zM557 768h1v1h-1zM768 768h3v1h-3zM851 768h5v1h-5zM973 768h7v1h-7zM297 769h1v1h-1zM558 769h1v1h-1zM765 769h3v1h-3zM856 769h6v1h-6zM966 769h7v1h-7zM296 770h1v1h-1zM558 770h1v1h-1zM762 770h3v1h-3zM862 770h7v1h-7zM959 770h7v1h-7zM295 771h1v1h-1zM559 771h1v1h-1zM759 771h3v1h-3zM869 771h7v1h-7zM952 771h7v1h-7zM294 772h1v1h-1zM560 772h1v1h-1zM756 772h3v1h-3zM876 772h9v1h-9zM945 772h7v1h-7zM294 773h1v1h-1zM560 773h1v1h-1zM754 773h2v1h-2zM885 773h11v1h-11zM932 773h13v1h-13zM293 774h1v1h-1zM561 774h1v1h-1zM752 774h2v1h-2zM896 774h36v1h-36zM292 775h1v1h-1zM561 775h1v1h-1zM749 775h3v1h-3zM291 776h1v1h-1zM562 776h1v1h-1zM747 776h2v1h-2zM291 777h1v1h-1zM562 777h1v1h-1zM745 777h2v1h-2zM290 778h1v1h-1zM563 778h1v1h-1zM742 778h3v1h-3zM289 779h1v1h-1zM564 779h1v1h-1zM740 779h2v1h-2zM288 780h1v1h-1zM564 780h1v1h-1zM738 780h2v1h-2zM288 781h1v1h-1zM565 781h1v1h-1zM735 781h3v1h-3zM287 782h1v1h-1zM565 782h1v1h-1zM733 782h2v1h-2zM286 783h1v1h-1zM566 783h1v1h-1zM730 783h3v1h-3zM285 784h1v1h-1zM567 784h1v1h-1zM727 784h3v1h-3zM285 785h1v1h-1zM567 785h1v1h-1zM725 785h2v1h-2zM284 786h1v1h-1zM568 786h1v1h-1zM722 786h3v1h-3zM283 787h1v1h-1zM568 787h1v1h-1zM720 787h2v1h-2zM282 788h1v1h-1zM569 788h1v1h-1zM717 788h3v1h-3zM282 789h1v1h-1zM570 789h1v1h-1zM715 789h2v1h-2zM281 790h1v1h-1zM571 790h2v1h-2zM711 790h4v1h-4zM279 791h2v1h-2zM573 791h1v1h-1zM707 791h4v1h-4zM277 792h2v1h-2zM574 792h2v1h-2zM704 792h3v1h-3zM275 793h2v1h-2zM576 793h2v1h-2zM700 793h4v1h-4zM273 794h2v1h-2zM578 794h1v1h-1zM697 794h3v1h-3zM271 795h2v1h-2zM579 795h2v1h-2zM693 795h4v1h-4zM269 796h2v1h-2zM581 796h1v1h-1zM688 796h5v1h-5zM267 797h2v1h-2zM582 797h2v1h-2zM683 797h5v1h-5zM265 798h2v1h-2zM584 798h2v1h-2zM678 798h5v1h-5zM263 799h2v1h-2zM586 799h1v1h-1zM673 799h5v1h-5zM261 800h2v1h-2zM587 800h2v1h-2zM659 800h14v1h-14zM260 801h1v1h-1zM589 801h70v1h-70z"/>
<path fill="#141472" shape-rendering="crispEdges" d="M1024 246h1v1h-1zM1023 247h1v1h-1zM1022 248h1v1h-1zM1020 249h2v1h-2zM1019 250h1v1h-1zM1018 251h1v1h-1zM1017 252h1v1h-1zM1016 253h1v1h-1zM1015 254h1v1h-1zM1013 255h2v1h-2zM1012 256h1v1h-1zM1011 257h1v1h-1zM1010 258h1v1h-1zM1009 259h1v1h-1zM1008 260h1v1h-1zM1006 261h2v1h-2zM1005 262h1v1h-1zM1004 263h1v1h-1zM1003 264h1v1h-1zM1002 265h1v1h-1zM1001 266h1v1h-1zM1000 267h1v1h-1zM999 268h1v1h-1zM998 269h1v1h-1zM998 270h1v1h-1zM997 271h1v1h-1zM996 272h1v1h-1zM995 273h1v1h-1zM994 274h1v1h-1zM993 275h1v1h-1zM992 276h1v1h-1zM991 277h1v1h-1zM990 278h1v1h-1zM989 279h1v1h-1zM988 280h1v1h-1zM987 281h1v1h-1zM986 282h1v1h-1zM985 283h1v1h-1zM985 284h1v1h-1zM984 285h1v1h-1zM983 286h1v1h-1zM982 287h1v1h-1zM981 288h1v1h-1zM981 289h1v1h-1zM980 290h1v1h-1zM979 291h1v1h-1zM978 292h1v1h-1zM978 293h1v1h-1zM977 294h1v1h-1zM976 295h1v1h-1zM976 296h1v1h-1zM975 297h1v1h-1zM974 298h1v1h-1zM974 299h1v1h-1zM973 300h1v1h-1zM972 301h1v1h-1zM971 302h1v1h-1zM971 303h1v1h-1zM970 304h1v1h-1zM969 305h1v1h-1zM969 306h1v1h-1zM968 307h1v1h-1zM967 308h1v1h-1zM967 309h1v1h-1zM966 310h1v1h-1zM965 311h1v1h-1zM964 312h1v1h-1zM964 313h1v1h-1zM963 314h1v1h-1zM962 315h1v1h-1zM962 316h1v1h-1zM961 317h1v1h-1zM961 318h1v1h-1zM960 319h1v1h-1zM960 320h1v1h-1zM959 321h1v1h-1zM959 322h1v1h-1zM958 323h1v1h-1zM957 324h1v1h-1zM957 325h1v1h-1zM956 326h1v1h-1zM956 327h1v1h-1zM955 328h1v1h-1zM955 329h1v1h-1zM954 330h1v1h-1zM954 331h1v1h-1zM953 332h1v1h-1zM953 333h1v1h-1zM952 334h1v1h-1zM952 335h1v1h-1zM951 336h1v1h-1zM951 337h1v1h-1zM950 338h1v1h-1zM949 339h1v1h-1zM949 340h1v1h-1zM948 341h1v1h-1zM948 342h1v1h-1zM947 343h1v1h-1zM947 344h1v1h-1zM946 345h1v1h-1zM946 346h1v1h-1zM945 347h1v1h-1zM945 348h1v1h-1zM944 349h1v1h-1zM944 350h1v1h-1zM943 351h1v1h-1zM942 352h1v1h-1zM942 353h1v1h-1zM941 354h1v1h-1zM941 355h1v1h-1zM940 356h1v1h-1zM940 357h1v1h-1zM939 358h1v1h-1zM939 359h1v1h-1zM938 360h1v1h-1zM938 361h1v1h-1zM937 362h1v1h-1zM937 363h1v1h-1zM936 364h1v1h-1zM936 365h1v1h-1zM935 366h1v1h-1zM935 367h1v1h-1zM934 368h1v1h-1zM934 369h1v1h-1zM933 370h1v1h-1zM933 371h1v1h-1zM932 372h1v1h-1zM932 373h1v1h-1zM931 374h1v1h-1zM931 375h1v1h-1zM930 376h1v1h-1zM930 377h1v1h-1zM929 378h1v1h-1zM929 379h1v1h-1zM928 380h1v1h-1zM928 381h1v1h-1zM927 382h1v1h-1zM926 383h1v1h-1zM926 384h1v1h-1zM925 385h1v1h-1zM925 386h1v1h-1zM924 387h1v1h-1zM924 388h1v1h-1zM923 389h1v1h-1zM923 390h1v1h-1zM922 391h1v1h-1zM922 392h1v1h-1zM921 393h1v1h-1zM921 394h1v1h-1zM920 395h1v1h-1zM920 396h1v1h-1zM919 397h1v1h-1zM919 398h1v1h-1zM918 399h1v1h-1zM918 400h1v1h-1zM917 401h1v1h-1zM917 402h1v1h-1zM916 403h1v1h-1zM916 404h1v1h-1zM915 405h1v1h-1zM915 406h1v1h-1zM914 407h1v1h-1zM914 408h1v1h-1zM913 409h1v1h-1zM913 410h1v1h-1zM912 411h1v1h-1zM912 412h1v1h-1zM911 413h1v1h-1zM911 414h1v1h-1zM910 415h1v1h-1zM910 416h1v1h-1zM909 417h1v1h-1zM909 418h1v1h-1zM908 419h1v1h-1zM908 420h1v1h-1zM907 421h1v1h-1zM907 422h1v1h-1zM906 423h1v1h-1zM906 424h1v1h-1zM905 425h1v1h-1zM905 426h1v1h-1zM904 427h1v1h-1zM904 428h1v1h-1zM903 429h1v1h-1zM903 430h1v1h-1zM902 431h1v1h-1zM902 432h1v1h-1zM901 433h1v1h-1zM901 434h1v1h-1zM900 435h1v1h-1zM900 436h1v1h-1zM899 437h1v1h-1zM899 438h1v1h-1zM898 439h1v1h-1zM898 440h1v1h-1zM897 441h1v1h-1zM897 442h1v1h-1zM896 443h1v1h-1zM896 444h1v1h-1zM895 445h1v1h-1zM894 446h1v1h-1zM894 447h1v1h-1zM893 448h1v1h-1zM893 449h1v1h-1zM892 450h1v1h-1zM892 451h1v1h-1zM891 452h1v1h-1zM891 453h1v1h-1zM890 454h1v1h-1zM890 455h1v1h-1zM889 456h1v1h-1zM888 457h1v1h-1zM888 458h1v1h-1zM887 459h1v1h-1zM887 460h1v1h-1zM886 461h1v1h-1zM886 462h1v1h-1zM885 463h1v1h-1zM885 464h1v1h-1zM884 465h1v1h-1zM884 466h1v1h-1zM883 467h1v1h-1zM882 468h1v1h-1zM882 469h1v1h-1zM881 470h1v1h-1zM881 471h1v1h-1zM880 472h1v1h-1zM880 473h1v1h-1zM879 474h1v1h-1zM879 475h1v1h-1zM878 476h1v1h-1zM878 477h1v1h-1zM877 478h1v1h-1zM877 479h1v1h-1zM876 480h1v1h-1zM876 481h1v1h-1zM875 482h1v1h-1zM875 483h1v1h-1zM874 484h1v1h-1zM874 485h1v1h-1zM873 486h1v1h-1zM873 487h1v1h-1zM872 488h1v1h-1zM872 489h1v1h-1zM871 490h1v1h-1zM871 491h1v1h-1zM870 492h1v1h-1zM870 493h1v1h-1zM869 494h1v1h-1zM869 495h1v1h-1zM868 496h1v1h-1zM868 497h1v1h-1zM867 498h1v1h-1zM867 499h1v1h-1zM866 500h1v1h-1zM866 501h1v1h-1zM865 502h1v1h-1zM865 503h1v1h-1zM864 504h1v1h-1zM864 505h1v1h-1zM863 506h1v1h-1zM863 507h1v1h-1zM862 508h1v1h-1zM862 509h1v1h-1zM861 510h1v1h-1zM861 511h1v1h-1zM860 512h1v1h-1zM860 513h1v1h-1zM859 514h1v1h-1zM859 515h1v1h-1zM858 516h1v1h-1zM858 517h1v1h-1zM857 518h1v1h-1zM857 519h1v1h-1zM856 520h1v1h-1zM856 521h1v1h-1zM855 522h1v1h-1zM855 523h1v1h-1zM854 524h1v1h-1zM854 525h1v1h-1zM853 526h1v1h-1zM853 527h1v1h-1zM852 528h1v1h-1zM852 529h1v1h-1zM851 530h1v1h-1zM851 531h1v1h-1zM850 532h1v1h-1zM850 533h1v1h-1zM849 534h1v1h-1zM849 535h1v1h-1zM848 536h1v1h-1zM848 537h1v1h-1zM847 538h1v1h-1zM846 539h1v1h-1zM846 540h1v1h-1zM845 541h1v1h-1zM845 542h1v1h-1zM844 543h1v1h-1zM844 544h1v1h-1zM843 545h1v1h-1zM843 546h1v1h-1zM842 547h1v1h-1zM842 548h1v1h-1zM841 549h1v1h-1zM841 550h1v1h-1zM840 551h1v1h-1zM840 552h1v1h-1zM839 553h1v1h-1zM839 554h1v1h-1zM838 555h1v1h-1zM838 556h1v1h-1zM837 557h1v1h-1zM837 558h1v1h-1zM836 559h1v1h-1zM835 560h1v1h-1zM835 561h1v1h-1zM834 562h1v1h-1zM834 563h1v1h-1zM833 564h1v1h-1zM832 565h1v1h-1zM832 566h1v1h-1zM831 567h1v1h-1zM831 568h1v1h-1zM830 569h1v1h-1zM830 570h1v1h-1zM829 571h1v1h-1zM828 572h1v1h-1zM828 573h1v1h-1zM827 574h1v1h-1zM827 575h1v1h-1zM826 576h1v1h-1zM825 577h1v1h-1zM825 578h1v1h-1zM824 579h1v1h-1zM824 580h1v1h-1zM823 581h1v1h-1zM823 582h1v1h-1zM822 583h1v1h-1zM821 584h1v1h-1zM821 585h1v1h-1zM820 586h1v1h-1zM820 587h1v1h-1zM819 588h1v1h-1zM818 589h1v1h-1zM818 590h1v1h-1zM817 591h1v1h-1zM817 592h1v1h-1zM816 593h1v1h-1zM815 594h1v1h-1zM815 595h1v1h-1zM814 596h1v1h-1zM814 597h1v1h-1zM813 598h1v1h-1zM812 599h1v1h-1zM812 600h1v1h-1zM811 601h1v1h-1zM811 602h1v1h-1zM810 603h1v1h-1zM809 604h1v1h-1zM809 605h1v1h-1zM808 606h1v1h-1zM808 607h1v1h-1zM807 608h1v1h-1zM806 609h1v1h-1zM806 610h1v1h-1zM805 611h1v1h-1zM804 612h1v1h-1zM804 613h1v1h-1zM803 614h1v1h-1zM803 615h1v1h-1zM802 616h1v1h-1zM801 617h1v1h-1zM801 618h1v1h-1zM800 619h1v1h-1zM800 620h1v1h-1zM799 621h1v1h-1zM798 622h1v1h-1zM798 623h1v1h-1zM797 624h1v1h-1zM797 625h1v1h-1zM796 626h1v1h-1zM795 627h1v1h-1zM795 628h1v1h-1zM794 629h1v1h-1zM793 630h1v1h-1zM793 631h1v1h-1zM792 632h1v1h-1zM792 633h1v1h-1zM791 634h1v1h-1zM790 635h1v1h-1zM790 636h1v1h-1zM789 637h1v1h-1zM788 638h1v1h-1zM788 639h1v1h-1zM787 640h1v1h-1zM787 641h1v1h-1zM786 642h1v1h-1zM785 643h1v1h-1zM785 644h1v1h-1zM784 645h1v1h-1zM783 646h1v1h-1zM783 647h1v1h-1zM782 648h1v1h-1zM781 649h1v1h-1zM781 650h1v1h-1zM780 651h1v1h-1zM780 652h1v1h-1zM779 653h1v1h-1zM778 654h1v1h-1zM778 655h1v1h-1zM777 656h1v1h-1zM776 657h1v1h-1zM776 658h1v1h-1zM775 659h1v1h-1zM774 660h1v1h-1zM774 661h1v1h-1zM773 662h1v1h-1zM772 663h1v1h-1zM771 664h1v1h-1zM771 665h1v1h-1zM770 666h1v1h-1zM769 667h1v1h-1zM768 668h1v1h-1zM768 669h1v1h-1zM767 670h1v1h-1zM766 671h1v1h-1zM765 672h1v1h-1zM765 673h1v1h-1zM764 674h1v1h-1zM763 675h1v1h-1zM763 676h1v1h-1zM762 677h1v1h-1zM761 678h1v1h-1zM760 679h1v1h-1zM760 680h1v1h-1zM759 681h1v1h-1zM758 682h1v1h-1zM757 683h1v1h-1zM757 684h1v1h-1zM756 685h1v1h-1zM755 686h1v1h-1zM754 687h1v1h-1zM753 688h1v1h-1zM752 689h1v1h-1zM752 690h1v1h-1zM751 691h1v1h-1zM750 692h1v1h-1zM749 693h1v1h-1zM748 694h1v1h-1zM747 695h1v1h-1zM746 696h1v1h-1zM745 697h1v1h-1zM745 698h1v1h-1zM744 699h1v1h-1zM743 700h1v1h-1zM742 701h1v1h-1zM741 702h1v1h-1zM740 703h1v1h-1zM739 704h1v1h-1zM738 705h1v1h-1zM737 706h1v1h-1zM737 707h1v1h-1zM736 708h1v1h-1zM735 709h1v1h-1zM734 710h1v1h-1zM733 711h1v1h-1zM732 712h1v1h-1zM731 713h1v1h-1zM730 714h1v1h-1zM729 715h1v1h-1zM728 716h1v1h-1zM727 717h1v1h-1zM726 718h1v1h-1zM725 719h1v1h-1zM724 720h1v1h-1zM723 721h1v1h-1zM722 722h1v1h-1zM721 723h1v1h-1zM720 724h1v1h-1zM719 725h1v1h-1zM718 726h1v1h-1zM717 727h1v1h-1zM716 728h1v1h-1zM715 729h1v1h-1zM714 730h1v1h-1zM713 731h1v1h-1zM711 732h2v1h-2zM710 733h1v1h-1zM709 734h1v1h-1zM708 735h1v1h-1zM706 736h2v1h-2zM705 737h1v1h-1zM704 738h1v1h-1zM703 739h1v1h-1zM701 740h2v1h-2zM700 741h1v1h-1zM699 742h1v1h-1zM698 743h1v1h-1zM696 744h2v1h-2zM695 745h1v1h-1zM694 746h1v1h-1zM692 747h2v1h-2zM691 748h1v1h-1zM689 749h2v1h-2zM687 750h2v1h-2zM686 751h1v1h-1zM684 752h2v1h-2zM683 753h1v1h-1zM681 754h2v1h-2zM679 755h2v1h-2zM678 756h1v1h-1zM676 757h2v1h-2zM675 758h1v1h-1zM673 759h2v1h-2zM671 760h2v1h-2zM669 761h2v1h-2zM666 762h3v1h-3zM664 763h2v1h-2zM662 764h2v1h-2zM660 765h2v1h-2zM658 766h2v1h-2zM656 767h2v1h-2zM654 768h2v1h-2zM651 769h3v1h-3zM649 770h2v1h-2zM646 771h3v1h-3zM644 772h2v1h-2zM641 773h3v1h-3zM639 774h2v1h-2zM636 775h3v1h-3zM634 776h2v1h-2zM631 777h3v1h-3zM627 778h4v1h-4zM624 779h3v1h-3zM621 780h3v1h-3zM617 781h4v1h-4zM614 782h3v1h-3zM610 783h4v1h-4zM605 784h5v1h-5zM601 785h4v1h-4zM596 786h5v1h-5zM592 787h4v1h-4zM586 788h6v1h-6zM579 789h7v1h-7zM573 790h6v1h-6zM566 791h7v1h-7zM558 792h8v1h-8zM550 793h8v1h-8zM534 794h16v1h-16zM517 795h17v1h-17zM497 796h20v1h-20zM456 797h41v1h-41zM373 798h83v1h-83zM312 799h61v1h-61zM260 800h52v1h-52z"/>
<path d="M156 801.1 H260" stroke="#4800b8" stroke-width="1.7" fill="none"/>
<defs>
<path id="g0" d="M4 0h4v1h-4zM3 1h6v1h-6zM2 2h2v1h-2zM8 2h2v1h-2zM2 3h2v1h-2zM8 3h2v1h-2zM1 4h2v1h-2zM9 4h2v1h-2zM1 5h2v1h-2zM9 5h2v1h-2zM1 6h2v1h-2zM9 6h2v1h-2zM1 7h2v1h-2zM9 7h2v1h-2zM1 8h2v1h-2zM9 8h2v1h-2zM1 9h2v1h-2zM9 9h2v1h-2zM1 10h2v1h-2zM9 10h2v1h-2zM1 11h2v1h-2zM9 11h2v1h-2zM2 12h2v1h-2zM8 12h2v1h-2zM2 13h2v1h-2zM8 13h2v1h-2zM3 14h6v1h-6zM4 15h4v1h-4z"/>
<path id="g1" d="M6 0h2v1h-2zM6 1h2v1h-2zM5 2h3v1h-3zM3 3h5v1h-5zM2 4h3v1h-3zM6 4h2v1h-2zM2 5h1v1h-1zM6 5h2v1h-2zM6 6h2v1h-2zM6 7h2v1h-2zM6 8h2v1h-2zM6 9h2v1h-2zM6 10h2v1h-2zM6 11h2v1h-2zM6 12h2v1h-2zM6 13h2v1h-2zM6 14h2v1h-2zM6 15h2v1h-2z"/>
<path id="g2" d="M3 0h6v1h-6zM2 1h8v1h-8zM1 2h3v1h-3zM8 2h3v1h-3zM1 3h2v1h-2zM9 3h2v1h-2zM9 4h2v1h-2zM9 5h2v1h-2zM8 6h3v1h-3zM7 7h3v1h-3zM6 8h3v1h-3zM5 9h3v1h-3zM4 10h3v1h-3zM3 11h3v1h-3zM2 12h3v1h-3zM1 13h3v1h-3zM1 14h10v1h-10zM1 15h10v1h-10z"/>
<path id="g4" d="M7 0h2v1h-2zM6 1h3v1h-3zM5 2h4v1h-4zM5 3h4v1h-4zM4 4h2v1h-2zM7 4h2v1h-2zM4 5h2v1h-2zM7 5h2v1h-2zM3 6h2v1h-2zM7 6h2v1h-2zM2 7h2v1h-2zM7 7h2v1h-2zM2 8h2v1h-2zM7 8h2v1h-2zM1 9h2v1h-2zM7 9h2v1h-2zM1 10h10v1h-10zM1 11h10v1h-10zM7 12h2v1h-2zM7 13h2v1h-2zM7 14h2v1h-2zM7 15h2v1h-2z"/>
<path id="g5" d="M3 0h7v1h-7zM3 1h7v1h-7zM2 2h2v1h-2zM2 3h2v1h-2zM2 4h2v1h-2zM2 5h6v1h-6zM1 6h9v1h-9zM1 7h2v1h-2zM7 7h2v1h-2zM9 8h2v1h-2zM9 9h2v1h-2zM9 10h2v1h-2zM9 11h2v1h-2zM1 12h2v1h-2zM8 12h2v1h-2zM1 13h3v1h-3zM7 13h3v1h-3zM2 14h7v1h-7zM3 15h5v1h-5z"/>
<path id="g6" d="M4 0h5v1h-5zM3 1h7v1h-7zM2 2h2v1h-2zM8 2h3v1h-3zM1 3h2v1h-2zM9 3h2v1h-2zM1 4h2v1h-2zM1 5h2v1h-2zM1 6h2v1h-2zM5 6h4v1h-4zM1 7h9v1h-9zM1 8h3v1h-3zM8 8h3v1h-3zM1 9h2v1h-2zM9 9h2v1h-2zM1 10h2v1h-2zM9 10h2v1h-2zM1 11h2v1h-2zM9 11h2v1h-2zM1 12h2v1h-2zM9 12h2v1h-2zM2 13h2v1h-2zM8 13h2v1h-2zM3 14h6v1h-6zM4 15h4v1h-4z"/>
<path id="g8" d="M4 0h4v1h-4zM3 1h6v1h-6zM2 2h2v1h-2zM8 2h2v1h-2zM2 3h2v1h-2zM8 3h2v1h-2zM2 4h2v1h-2zM8 4h2v1h-2zM2 5h2v1h-2zM8 5h2v1h-2zM3 6h6v1h-6zM3 7h6v1h-6zM2 8h2v1h-2zM8 8h2v1h-2zM1 9h2v1h-2zM9 9h2v1h-2zM1 10h2v1h-2zM9 10h2v1h-2zM1 11h2v1h-2zM9 11h2v1h-2zM1 12h2v1h-2zM9 12h2v1h-2zM2 13h2v1h-2zM8 13h2v1h-2zM3 14h6v1h-6zM4 15h4v1h-4z"/>
<path id="g9" d="M4 0h4v1h-4zM2 1h7v1h-7zM2 2h2v1h-2zM8 2h2v1h-2zM1 3h2v1h-2zM9 3h2v1h-2zM1 4h2v1h-2zM9 4h2v1h-2zM1 5h2v1h-2zM9 5h2v1h-2zM1 6h2v1h-2zM9 6h2v1h-2zM2 7h2v1h-2zM8 7h3v1h-3zM2 8h9v1h-9zM3 9h4v1h-4zM9 9h2v1h-2zM9 10h2v1h-2zM9 11h2v1h-2zM1 12h2v1h-2zM8 12h2v1h-2zM1 13h3v1h-3zM7 13h3v1h-3zM2 14h7v1h-7zM3 15h5v1h-5z"/>
<path id="gp" d="M2 14h2v1h-2zM2 15h2v1h-2z"/>
</defs>
<g fill="#000" shape-rendering="crispEdges">
<use href="#g0" x="138" y="793"/>
<use href="#g0" x="108" y="688"/>
<use href="#gp" x="120" y="688"/>
<use href="#g0" x="126" y="688"/>
<use href="#g2" x="138" y="688"/>
<use href="#g0" x="108" y="583"/>
<use href="#gp" x="120" y="583"/>
<use href="#g0" x="126" y="583"/>
<use href="#g4" x="138" y="583"/>
<use href="#g0" x="108" y="478"/>
<use href="#gp" x="120" y="478"/>
<use href="#g0" x="126" y="478"/>
<use href="#g6" x="138" y="478"/>
<use href="#g0" x="108" y="374"/>
<use href="#gp" x="120" y="374"/>
<use href="#g0" x="126" y="374"/>
<use href="#g8" x="138" y="374"/>
<use href="#g0" x="120" y="269"/>
<use href="#gp" x="132" y="269"/>
<use href="#g1" x="138" y="269"/>
<use href="#g0" x="108" y="164"/>
<use href="#gp" x="120" y="164"/>
<use href="#g1" x="126" y="164"/>
<use href="#g2" x="138" y="164"/>
<use href="#g0" x="108" y="60"/>
<use href="#gp" x="120" y="60"/>
<use href="#g1" x="126" y="60"/>
<use href="#g4" x="138" y="60"/>
<use href="#g1" x="132" y="811"/>
<use href="#g9" x="144" y="811"/>
<use href="#g8" x="156" y="811"/>
<use href="#g0" x="168" y="811"/>
<use href="#g1" x="235" y="811"/>
<use href="#g9" x="247" y="811"/>
<use href="#g8" x="259" y="811"/>
<use href="#g5" x="271" y="811"/>
<use href="#g1" x="338" y="811"/>
<use href="#g9" x="350" y="811"/>
<use href="#g9" x="362" y="811"/>
<use href="#g0" x="374" y="811"/>
<use href="#g1" x="442" y="811"/>
<use href="#g9" x="454" y="811"/>
<use href="#g9" x="466" y="811"/>
<use href="#g5" x="478" y="811"/>
<use href="#g2" x="545" y="811"/>
<use href="#g0" x="557" y="811"/>
<use href="#g0" x="569" y="811"/>
<use href="#g0" x="581" y="811"/>
<use href="#g2" x="648" y="811"/>
<use href="#g0" x="660" y="811"/>
<use href="#g0" x="672" y="811"/>
<use href="#g5" x="684" y="811"/>
<use href="#g2" x="752" y="811"/>
<use href="#g0" x="764" y="811"/>
<use href="#g1" x="776" y="811"/>
<use href="#g0" x="788" y="811"/>
<use href="#g2" x="855" y="811"/>
<use href="#g0" x="867" y="811"/>
<use href="#g1" x="879" y="811"/>
<use href="#g5" x="891" y="811"/>
<use href="#g2" x="958" y="811"/>
<use href="#g0" x="970" y="811"/>
<use href="#g2" x="982" y="811"/>
<use href="#g0" x="994" y="811"/>
<use href="#g2" x="1062" y="811"/>
<use href="#g0" x="1074" y="811"/>
<use href="#g2" x="1086" y="811"/>
<use href="#g5" x="1098" y="811"/>
</g>
</svg>
</body></html>
